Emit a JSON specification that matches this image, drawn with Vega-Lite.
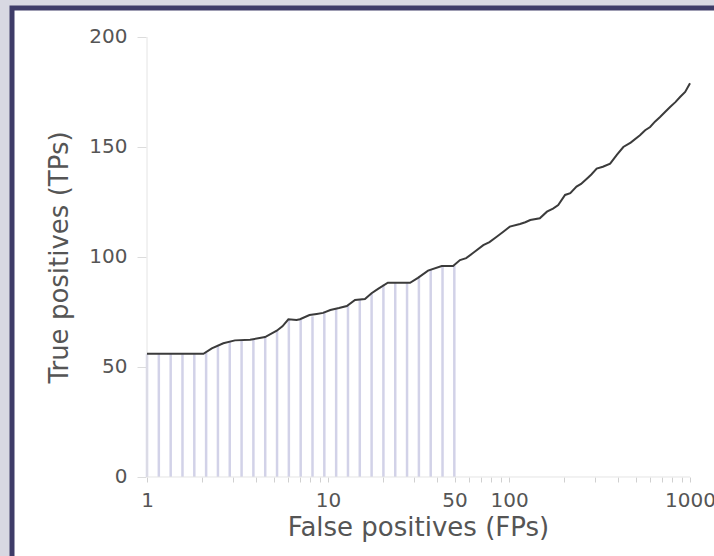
{
  "$schema": "https://vega.github.io/schema/vega-lite/v6.json",
  "width": 710,
  "height": 556,
  "autosize": {"type": "none"},
  "padding": {"left": 12, "top": 8, "right": -8, "bottom": -8},
  "background": "#d8d8e2",
  "config": {
    "view": {"fill": "white", "stroke": "#3e3c68", "strokeWidth": 5},
    "font": "DejaVu Sans"
  },
  "datasets": {
    "bars": [
      {"fp": 1.0, "tp": 56},
      {"fp": 1.162, "tp": 56},
      {"fp": 1.351, "tp": 56},
      {"fp": 1.570, "tp": 56},
      {"fp": 1.825, "tp": 56},
      {"fp": 2.121, "tp": 56.5},
      {"fp": 2.465, "tp": 59.5},
      {"fp": 2.865, "tp": 61.5},
      {"fp": 3.330, "tp": 62.2},
      {"fp": 3.870, "tp": 62.6},
      {"fp": 4.498, "tp": 63.6},
      {"fp": 5.228, "tp": 66.8},
      {"fp": 6.076, "tp": 71.6},
      {"fp": 7.062, "tp": 71.7},
      {"fp": 8.208, "tp": 73.0},
      {"fp": 9.540, "tp": 75.3},
      {"fp": 11.09, "tp": 76.8},
      {"fp": 12.89, "tp": 78.0},
      {"fp": 14.98, "tp": 80.5},
      {"fp": 17.41, "tp": 83.5},
      {"fp": 20.23, "tp": 87.5},
      {"fp": 23.52, "tp": 88.3},
      {"fp": 27.33, "tp": 88.3},
      {"fp": 31.77, "tp": 90.8},
      {"fp": 36.92, "tp": 94.3},
      {"fp": 42.91, "tp": 95.9},
      {"fp": 49.87, "tp": 95.9}
    ],
    "curve": [
      {"fp": 1, "tp": 56},
      {"fp": 2.05, "tp": 56},
      {"fp": 2.28, "tp": 58.5},
      {"fp": 2.64, "tp": 60.8},
      {"fp": 3.06, "tp": 62.1},
      {"fp": 3.71, "tp": 62.4},
      {"fp": 4.49, "tp": 63.6},
      {"fp": 5.21, "tp": 66.5},
      {"fp": 5.6, "tp": 68.5},
      {"fp": 6.04, "tp": 71.7},
      {"fp": 6.7, "tp": 71.4},
      {"fp": 7.0, "tp": 71.7},
      {"fp": 7.9, "tp": 73.6},
      {"fp": 8.66, "tp": 74.1},
      {"fp": 9.4, "tp": 74.6},
      {"fp": 10.3, "tp": 75.9},
      {"fp": 11.5, "tp": 76.8},
      {"fp": 12.7, "tp": 77.7},
      {"fp": 14.1, "tp": 80.5},
      {"fp": 16.0, "tp": 80.9},
      {"fp": 17.4, "tp": 83.5},
      {"fp": 18.9, "tp": 85.5},
      {"fp": 21.4, "tp": 88.3},
      {"fp": 24.5, "tp": 88.3},
      {"fp": 28.4, "tp": 88.3},
      {"fp": 31.4, "tp": 90.5},
      {"fp": 35.7, "tp": 93.8},
      {"fp": 42.5, "tp": 95.9},
      {"fp": 49.1, "tp": 95.9},
      {"fp": 53.6, "tp": 98.6},
      {"fp": 58, "tp": 99.5},
      {"fp": 63.5, "tp": 101.9},
      {"fp": 72.1, "tp": 105.4},
      {"fp": 78, "tp": 106.8},
      {"fp": 85.5, "tp": 109.2},
      {"fp": 93, "tp": 111.5},
      {"fp": 101, "tp": 113.8},
      {"fp": 115, "tp": 115},
      {"fp": 123, "tp": 115.8},
      {"fp": 131, "tp": 116.8},
      {"fp": 148, "tp": 117.6},
      {"fp": 162, "tp": 120.6},
      {"fp": 175, "tp": 122},
      {"fp": 187, "tp": 123.6},
      {"fp": 204, "tp": 128.2},
      {"fp": 218, "tp": 129},
      {"fp": 236, "tp": 132},
      {"fp": 250, "tp": 133.2},
      {"fp": 269, "tp": 135.6},
      {"fp": 285, "tp": 137.5},
      {"fp": 305, "tp": 140.2},
      {"fp": 330, "tp": 141},
      {"fp": 362, "tp": 142.4},
      {"fp": 395, "tp": 146.5},
      {"fp": 428, "tp": 150},
      {"fp": 470, "tp": 152},
      {"fp": 529, "tp": 155.3},
      {"fp": 565, "tp": 157.6},
      {"fp": 602, "tp": 159.1},
      {"fp": 640, "tp": 161.5},
      {"fp": 683, "tp": 163.6},
      {"fp": 730, "tp": 166},
      {"fp": 776, "tp": 168.2},
      {"fp": 830, "tp": 170.4},
      {"fp": 881, "tp": 172.7},
      {"fp": 940, "tp": 175},
      {"fp": 1000, "tp": 179}
    ]
  },
  "layer": [
    {
      "data": {"name": "bars"},
      "mark": {"type": "rule", "color": "#d2d2e8", "strokeWidth": 2.5},
      "encoding": {
        "x": {
          "field": "fp",
          "type": "quantitative",
          "scale": {"type": "log", "domain": [0.1795, 1502], "nice": false, "zero": false},
          "axis": {
            "orient": "bottom",
            "offset": -87,
            "domain": false,
            "grid": false,
            "values": [1, 2, 3, 4, 5, 6, 7, 8, 9, 10, 20, 30, 40, 50, 60, 70, 80, 90, 100, 200, 300, 400, 500, 600, 700, 800, 900, 1000],
            "labelExpr": "indexof([1, 10, 50, 100, 1000], datum.value) >= 0 ? format(datum.value, 'd') : ''",
            "labelOverlap": false,
            "labelFlush": false,
            "labelBound": false,
            "tickSize": 5,
            "tickColor": "#d0d0d0",
            "labelFontSize": 20,
            "labelColor": "#555555",
            "labelPadding": 8,
            "title": "False positives (FPs)",
            "titleFontSize": 26,
            "titleFontWeight": "normal",
            "titleColor": "#555555",
            "titlePadding": 4,
            "titleX": 406
          }
        },
        "y": {
          "field": "tp",
          "type": "quantitative",
          "scale": {"domain": [-39.55, 213.18], "nice": false, "zero": false},
          "axis": {
            "orient": "left",
            "offset": -134,
            "domain": false,
            "grid": false,
            "values": [0, 50, 100, 150, 200],
            "tickSize": 9,
            "tickColor": "#dcdcdc",
            "labelFontSize": 20,
            "labelColor": "#555555",
            "labelPadding": 10,
            "title": "True positives (TPs)",
            "titleFontSize": 26,
            "titleFontWeight": "normal",
            "titleColor": "#555555",
            "titlePadding": 16,
            "titleY": 249
          }
        },
        "y2": {"datum": 0}
      }
    },
    {
      "data": {"values": [{}]},
      "mark": {"type": "rule", "color": "#e4e4e4", "strokeWidth": 1},
      "encoding": {"x": {"datum": 1}, "y": {"datum": 0}, "y2": {"datum": 200}}
    },
    {
      "data": {"values": [{}]},
      "mark": {"type": "rule", "color": "#e4e4e4", "strokeWidth": 1},
      "encoding": {"x": {"datum": 1}, "x2": {"datum": 1000}, "y": {"datum": 0}}
    },
    {
      "data": {"name": "curve"},
      "mark": {"type": "line", "color": "#3b3b3b", "strokeWidth": 2},
      "encoding": {
        "x": {"field": "fp", "type": "quantitative"},
        "y": {"field": "tp", "type": "quantitative"}
      }
    }
  ]
}
